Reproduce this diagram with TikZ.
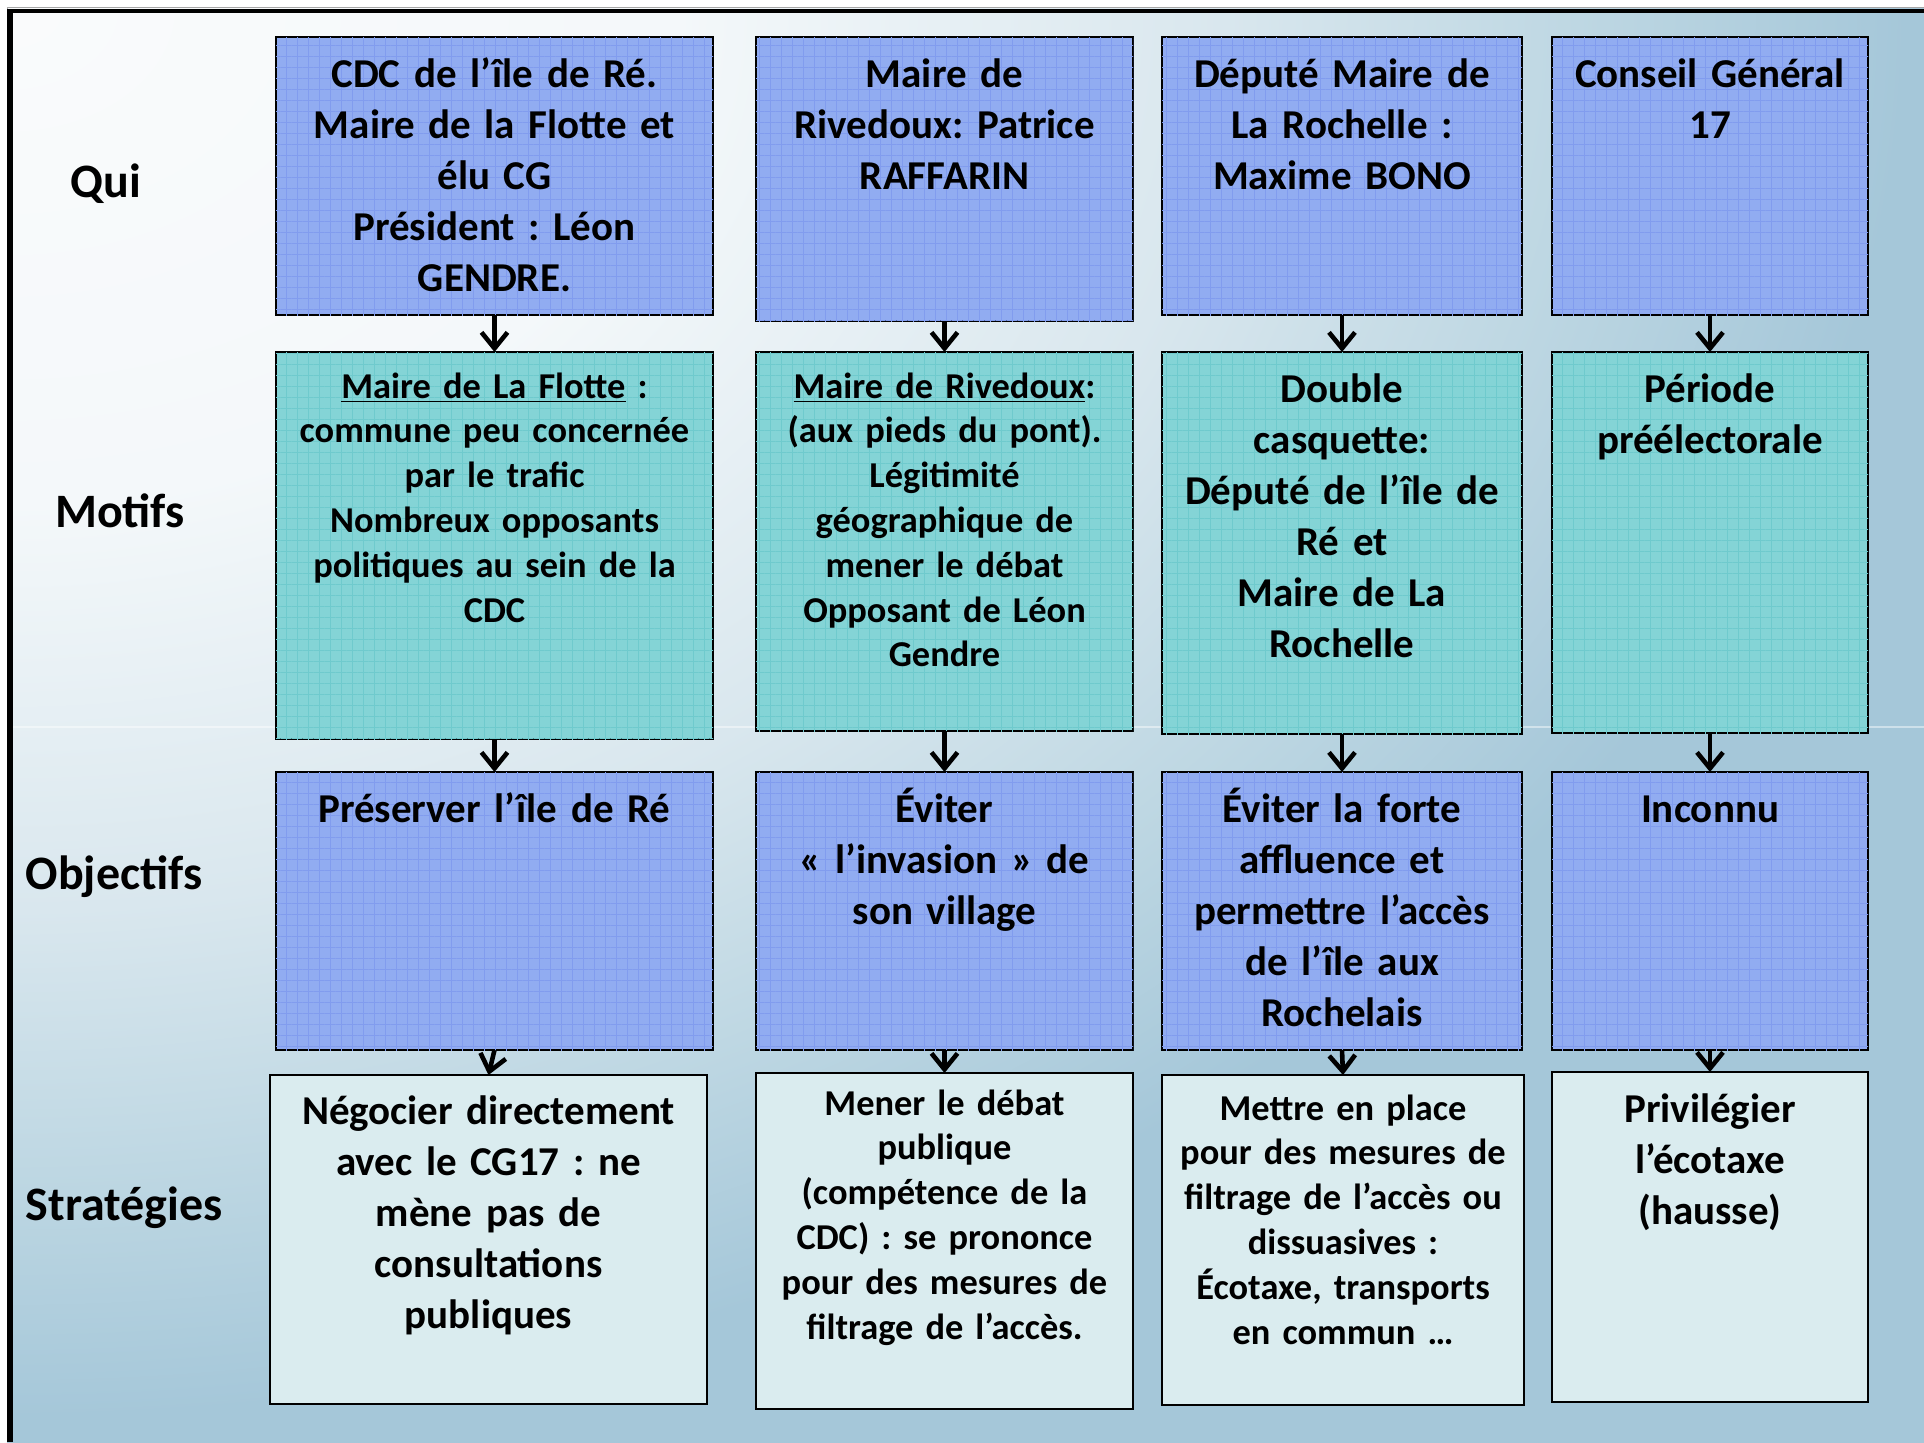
\documentclass[tikz,border=0pt]{standalone}
\usepackage{fontspec}
\setmainfont{Carlito}
\usetikzlibrary{arrows.meta,calc,patterns.meta}
\frenchspacing
\definecolor{bgw}{HTML}{FAFBFC}
\definecolor{bg1}{HTML}{F4F8FA}
\definecolor{bg2}{HTML}{D9E7EE}
\definecolor{bg3}{HTML}{BCD6E2}
\definecolor{bgb}{HTML}{A5C7D9}
\definecolor{qblue}{HTML}{91ACF1}
\definecolor{qgrid}{HTML}{819CEE}
\definecolor{mteal}{HTML}{84D4D6}
\definecolor{mgrid}{HTML}{6FCACD}
\definecolor{slight}{HTML}{DAECEF}
\pgfdeclareradialshading{bgrad}{\pgfpoint{0bp}{0bp}}{color(0bp)=(bgw); color(4.4bp)=(bg1); color(8bp)=(bg2); color(10.5bp)=(bg3); color(12.5bp)=(bgb); color(50bp)=(bgb)}
\newcommand\mkbox[6]{\node[#2, minimum width={0.5pt*(#5-#3)}, minimum height={0.5pt*(#6-#4)}] (#1) at ({(#3+#5)/2},{(#4+#6)/2}) {};}
\tikzset{
  boxbase/.style={draw=black, line width=1.25pt, inner sep=0pt, outer sep=0pt, rectangle},
  gridtex/.style={postaction={pattern={Lines[distance=5.5pt,angle=0,line width=0.3pt]}, pattern color=#1},
                  postaction={pattern={Lines[distance=5.5pt,angle=90,line width=0.3pt]}, pattern color=#1}},
  quibox/.style={boxbase, fill=qblue, gridtex=qgrid},
  motbox/.style={boxbase, fill=mteal, gridtex=mgrid},
  stbox/.style={boxbase, fill=slight},
  bt/.style={font=\fontsize{20.5pt}{25.5pt}\selectfont\bfseries, text width=300pt, align=center, anchor=base, inner sep=0pt},
  st/.style={font=\fontsize{18.2pt}{22.4pt}\selectfont\bfseries, text width=300pt, align=center, anchor=base, inner sep=0pt},
  lab/.style={font=\fontsize{24pt}{28pt}\selectfont\bfseries, anchor=base, inner sep=0pt},
  arr/.style={line width=2.3pt, -{Straight Barb[length=8pt,width=13pt]}}
}
\begin{document}
\begin{tikzpicture}[x=0.5pt,y=-0.5pt]
\useasboundingbox (0,0) rectangle (1924,1442);
\fill[white] (0,0) rectangle (1924,1442);
\begin{scope}
  \clip (7,7) rectangle (1924,1442);
  \shade[shading=bgrad] (7,7) ellipse [x radius=3800, y radius=2820];
\end{scope}
\draw[white, opacity=0.45, line width=1pt] (13,727) -- (1924,727);
% frame
\draw[gray!70, line width=0.5pt] (7,1442) -- (7,7) -- (1924,7);
\draw[black, line width=3pt] (10.3,9.5) -- (10.3,1442);
\draw[black, line width=1.75pt] (7,11) -- (1924,11);

% row labels
\node[lab] (lq) at (106,197) {Qui};
\node[lab] (lm) at (120,527) {Motifs};
\node[lab] (lo) at (114,889) {Objectifs};
\node[lab] (ls) at (124,1220) {Stratégies};

% Qui
\mkbox{q1}{quibox}{276}{37}{713}{315}
\mkbox{q2}{quibox}{756}{37}{1133}{321}
\mkbox{q3}{quibox}{1162}{37}{1522}{315}
\mkbox{q4}{quibox}{1552}{37}{1868}{315}
% Motifs
\mkbox{m1}{motbox}{276}{352}{713}{739}
\mkbox{m2}{motbox}{756}{352}{1133}{731}
\mkbox{m3}{motbox}{1162}{352}{1522}{734}
\mkbox{m4}{motbox}{1552}{352}{1868}{733}
% Objectifs
\mkbox{o1}{quibox}{276}{772}{713}{1050}
\mkbox{o2}{quibox}{756}{772}{1133}{1050}
\mkbox{o3}{quibox}{1162}{772}{1522}{1050}
\mkbox{o4}{quibox}{1552}{772}{1868}{1050}
% Strategies
\mkbox{s1}{stbox}{270}{1075}{707}{1404}
\mkbox{s2}{stbox}{756}{1073}{1133}{1409}
\mkbox{s3}{stbox}{1162}{1075}{1524}{1405}
\mkbox{s4}{stbox}{1552}{1072}{1868}{1402}

% texts
\node[bt] (q1t) at ($(q1.north)+(0,50)$) {CDC de l’île de Ré.\\Maire de la Flotte et\\élu CG\\Président : Léon\\GENDRE.};
\node[bt] (q2t) at ($(q2.north)+(0,50)$) {Maire de\\Rivedoux: Patrice\\RAFFARIN};
\node[bt] (q3t) at ($(q3.north)+(0,50)$) {Député Maire de\\La Rochelle :\\Maxime BONO};
\node[bt] (q4t) at ($(q4.north)+(0,50)$) {Conseil Général\\17};

\node[st] (m1t) at ($(m1.north)+(0,46)$) {\underline{Maire de La Flotte} :\\commune peu concernée\\par le trafic\\Nombreux opposants\\politiques au sein de la\\CDC};
\node[st] (m2t) at ($(m2.north)+(0,46)$) {\underline{Maire de Rivedoux}:\\(aux pieds du pont).\\Légitimité\\géographique de\\mener le débat\\Opposant de Léon\\Gendre};
\node[bt] (m3t) at ($(m3.north)+(0,50)$) {Double\\casquette:\\Député de l’île de\\Ré et\\Maire de La\\Rochelle};
\node[bt] (m4t) at ($(m4.north)+(0,50)$) {Période\\préélectorale};

\node[bt] (o1t) at ($(o1.north)+(0,50)$) {Préserver l’île de Ré};
\node[bt] (o2t) at ($(o2.north)+(0,50)$) {Éviter\\« l’invasion » de\\son village};
\node[bt] (o3t) at ($(o3.north)+(0,50)$) {Éviter la forte\\affluence et\\permettre l’accès\\de l’île aux\\Rochelais};
\node[bt] (o4t) at ($(o4.north)+(0,50)$) {Inconnu};

\node[bt] (s1t) at ($(s1.north)+(0,49)$) {Négocier directement\\avec le CG17 : ne\\mène pas de\\consultations\\publiques};
\node[st] (s2t) at ($(s2.north)+(0,42)$) {Mener le débat\\publique\\(compétence de la\\CDC) : se prononce\\pour des mesures de\\filtrage de l’accès.};
\node[st] (s3t) at ($(s3.north)+(0,45)$) {Mettre en place\\pour des mesures de\\filtrage de l’accès ou\\dissuasives :\\Écotaxe, transports\\en commun …};
\node[bt] (s4t) at ($(s4.north)+(0,50)$) {Privilégier\\l’écotaxe\\(hausse)};

% arrows
\foreach \c in {1,2,3,4}{
  \draw[arr] (q\c.south) -- (m\c.north);
  \draw[arr] (m\c.south) -- (o\c.north);
  \draw[arr] (o\c.south) -- (s\c.north);
}
\end{tikzpicture}
\end{document}
